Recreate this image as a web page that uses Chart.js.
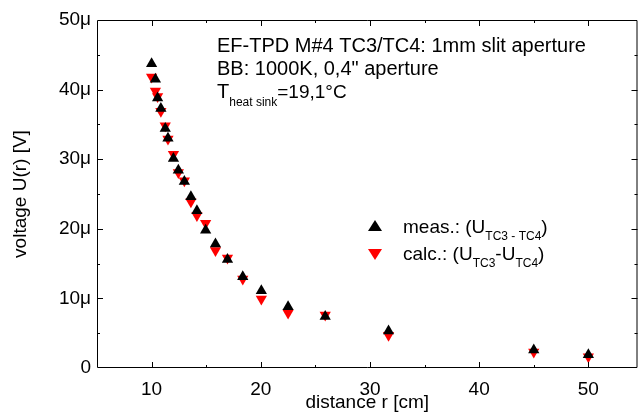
<!DOCTYPE html>
<html>
<head>
<meta charset="utf-8">
<script src="https://cdn.jsdelivr.net/npm/chart.js@4"></script>
<style>
  html, body { margin: 0; padding: 0; background: #fff; }
  #chart { display: block; }
</style>
</head>
<body>
<canvas id="chart" width="644" height="414"></canvas>
<script>
// distance r [cm]
const rValues = [10.0, 10.35, 10.55, 10.85, 11.25, 11.5, 12.0, 12.45, 13.0, 13.6, 14.15,
                 14.95, 15.85, 16.95, 18.35, 20.05, 22.5, 25.9, 31.7, 45.0, 50.0];
// voltage in microvolts
const measValues = [43.7, 41.5, 38.8, 37.3, 34.4, 33.0, 30.1, 28.4, 26.8, 24.6, 22.6,
                    19.8, 17.8, 15.6, 13.1, 11.1, 8.8, 7.4, 5.3, 2.6, 1.9];
const calcValues = [41.8, 39.8, 39.0, 36.9, 34.8, 32.9, 30.7, 28.1, 26.9, 23.9, 21.9,
                    20.8, 16.9, 15.8, 12.8, 9.9, 7.9, 7.6, 4.7, 2.3, 1.6];
const xTicks = [10, 20, 30, 40, 50];
const yTicks = [0, 10, 20, 30, 40, 50];

const FONT = "'Liberation Sans', Arial, sans-serif";

// draw a line made of pieces [text, size, dy]
function drawRich(ctx, x, y, parts) {
    parts.forEach(p => {
        ctx.font = p[1] + 'px ' + FONT;
        ctx.fillText(p[0], x, y + p[2]);
        x += ctx.measureText(p[0]).width;
    });
}

// frame, inward ticks, notes and legend
const framePlugin = {
    id: 'frame',
    afterDraw(chart) {
        const ctx = chart.ctx;
        const a = chart.chartArea;
        const xs = chart.scales.x, ys = chart.scales.y;
        ctx.save();
        ctx.strokeStyle = '#000';
        ctx.lineWidth = 1;
        ctx.beginPath();
        ctx.rect(a.left + 0.5, a.top + 0.5, a.right - a.left - 1, a.bottom - a.top - 1);
        // x ticks every 5, major every 10
        for (let v = 10; v <= 50; v += 5) {
            const px = Math.round(xs.getPixelForValue(v)) + 0.5;
            const len = v % 10 === 0 ? 6 : 3;
            ctx.moveTo(px, a.bottom); ctx.lineTo(px, a.bottom - len);
            ctx.moveTo(px, a.top); ctx.lineTo(px, a.top + len);
        }
        for (let v = 5; v < 50; v += 5) {
            const py = Math.round(ys.getPixelForValue(v)) + 0.5;
            const len = v % 10 === 0 ? 6 : 3;
            ctx.moveTo(a.left, py); ctx.lineTo(a.left + len, py);
            ctx.moveTo(a.right, py); ctx.lineTo(a.right - len, py);
        }
        ctx.stroke();

        ctx.fillStyle = '#000';
        ctx.textBaseline = 'alphabetic';
        ctx.textAlign = 'left';
        drawRich(ctx, 217, 52, [['EF-TPD M#4 TC3/TC4: 1mm slit aperture', 20, 0]]);
        drawRich(ctx, 217, 75, [['BB: 1000K, 0,4" aperture', 20, 0]]);
        drawRich(ctx, 217, 98, [['T', 20, 0], ['heat sink', 12, 8], ['=19,1\u00B0C', 19, 0]]);

        // legend
        const mk = (cx, cy, color, down) => {
            ctx.fillStyle = color;
            ctx.beginPath();
            if (down) {
                ctx.moveTo(cx - 7, cy - 5); ctx.lineTo(cx + 7, cy - 5); ctx.lineTo(cx, cy + 6);
            } else {
                ctx.moveTo(cx - 7, cy + 5); ctx.lineTo(cx + 7, cy + 5); ctx.lineTo(cx, cy - 6);
            }
            ctx.closePath();
            ctx.fill();
        };
        mk(375, 226, '#000', false);
        mk(375, 254, '#ff0000', true);
        ctx.fillStyle = '#000';
        drawRich(ctx, 403, 233, [['meas.: (U', 19, 0], ['TC3 - TC4', 12, 7], [')', 19, 0]]);
        drawRich(ctx, 403, 260, [['calc.: (U', 19, 0], ['TC3', 12, 7], ['-U', 19, 0], ['TC4', 12, 7], [')', 19, 0]]);
        ctx.restore();
    }
};

new Chart(document.getElementById('chart'), {
    type: 'scatter',
    data: {
        datasets: [
            {
                label: 'meas.',
                data: rValues.map((r, i) => ({ x: r, y: measValues[i] })),
                pointStyle: 'triangle',
                pointRadius: 6.5,
                backgroundColor: '#000',
                borderColor: '#000',
                borderWidth: 0
            },
            {
                label: 'calc.',
                data: rValues.map((r, i) => ({ x: r, y: calcValues[i] })),
                pointStyle: 'triangle',
                rotation: 180,
                pointRadius: 6.5,
                backgroundColor: '#ff0000',
                borderColor: '#ff0000',
                borderWidth: 0
            }
        ]
    },
    options: {
        responsive: false,
        animation: false,
        layout: { padding: { top: 20, right: 4, left: 0, bottom: 0 } },
        plugins: { legend: { display: false }, tooltip: { enabled: false } },
        scales: {
            x: {
                type: 'linear',
                min: 5,
                max: 54.5,
                afterBuildTicks: s => { s.ticks = xTicks.map(v => ({ value: v })); },
                afterFit: s => { s.height = 46; },
                grid: { display: false, drawTicks: false },
                border: { display: false },
                ticks: { color: '#000', padding: 10, font: { family: FONT, size: 19 } },
                title: {
                    display: true,
                    text: 'distance r [cm]',
                    color: '#000',
                    padding: { top: 0, bottom: 0 },
                    font: { family: FONT, size: 19 }
                }
            },
            y: {
                min: 0,
                max: 50,
                afterBuildTicks: s => { s.ticks = yTicks.map(v => ({ value: v })); },
                afterFit: s => { s.width = 97; },
                grid: { display: false, drawTicks: false },
                border: { display: false },
                ticks: {
                    color: '#000',
                    padding: 6,
                    font: { family: FONT, size: 19 },
                    callback: v => v === 0 ? '0' : v + '\u03BC'
                },
                title: {
                    display: true,
                    text: 'voltage U(r) [V]',
                    color: '#000',
                    padding: { top: 9, bottom: 0 },
                    font: { family: FONT, size: 19 }
                }
            }
        }
    },
    plugins: [framePlugin]
});
</script>
</body>
</html>
